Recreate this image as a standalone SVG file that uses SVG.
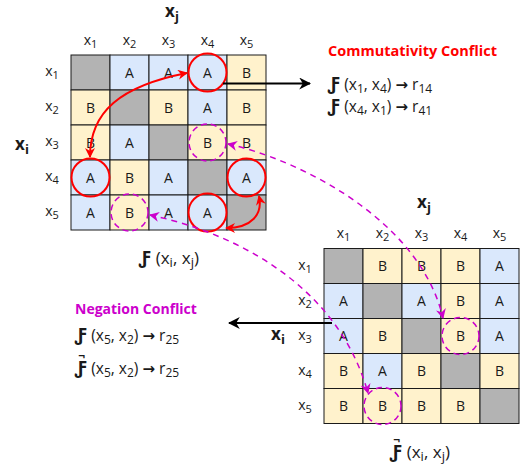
<svg xmlns="http://www.w3.org/2000/svg" width="522" height="472" viewBox="0 0 522 472">
<defs>
<style>
text{font-family:"Open Sans","Noto Sans","Liberation Sans",sans-serif;fill:#1a1a1a}
.c{font-size:14px;text-anchor:middle}
.lb{font-size:14px;text-anchor:middle}
.ax{font-size:17px;font-weight:bold;text-anchor:middle}
.g{fill:#b3b3b3;stroke:#1a1a1a;stroke-width:1}
.a{fill:#dae8fc;stroke:#1a1a1a;stroke-width:1}
.b{fill:#fff2cc;stroke:#1a1a1a;stroke-width:1}
.rc{fill:none;stroke:#ff0000;stroke-width:2}
.mc{fill:none;stroke:#cc00cc;stroke-width:1.5;stroke-dasharray:6 4}
.ra{fill:none;stroke:#ff0000;stroke-width:2}
.ma{fill:none;stroke:#cc00cc;stroke-width:1.5;stroke-dasharray:6 5}
.fx{font-size:17px}
.fm{font-size:15.5px}
.F{font-weight:bold;font-size:18px}
.ar{font-weight:bold;font-size:15px;font-family:"DejaVu Sans",sans-serif}
</style>
<marker id="rh" viewBox="0 0 10 10" refX="9" refY="5" markerWidth="10" markerHeight="10" markerUnits="userSpaceOnUse" orient="auto-start-reverse"><path d="M0,0 L10,5 L0,10 L3,5 Z" fill="#ff0000"/></marker>
<marker id="mh" viewBox="0 0 10 10" refX="9" refY="5" markerWidth="10" markerHeight="10" markerUnits="userSpaceOnUse" orient="auto-start-reverse"><path d="M0,0 L10,5 L0,10 L3,5 Z" fill="#cc00cc"/></marker>
<marker id="kh" viewBox="0 0 10 10" refX="9" refY="5" markerWidth="12" markerHeight="12" markerUnits="userSpaceOnUse" orient="auto"><path d="M0,0 L10,5 L0,10 L3,5 Z" fill="#000"/></marker>
</defs>

<g id="matrix-F">
<rect class="g" x="71" y="55" width="39" height="35"/><rect class="a" x="110" y="55" width="39" height="35"/><rect class="a" x="149" y="55" width="39" height="35"/><rect class="a" x="188" y="55" width="39" height="35"/><rect class="b" x="227" y="55" width="39" height="35"/>
<rect class="b" x="71" y="90" width="39" height="35"/><rect class="g" x="110" y="90" width="39" height="35"/><rect class="b" x="149" y="90" width="39" height="35"/><rect class="a" x="188" y="90" width="39" height="35"/><rect class="b" x="227" y="90" width="39" height="35"/>
<rect class="b" x="71" y="125" width="39" height="35"/><rect class="a" x="110" y="125" width="39" height="35"/><rect class="g" x="149" y="125" width="39" height="35"/><rect class="b" x="188" y="125" width="39" height="35"/><rect class="b" x="227" y="125" width="39" height="35"/>
<rect class="a" x="71" y="160" width="39" height="35"/><rect class="b" x="110" y="160" width="39" height="35"/><rect class="a" x="149" y="160" width="39" height="35"/><rect class="g" x="188" y="160" width="39" height="35"/><rect class="a" x="227" y="160" width="39" height="35"/>
<rect class="a" x="71" y="195" width="39" height="35"/><rect class="b" x="110" y="195" width="39" height="35"/><rect class="a" x="149" y="195" width="39" height="35"/><rect class="a" x="188" y="195" width="39" height="35"/><rect class="g" x="227" y="195" width="39" height="35"/>
<text class="c" x="129.5" y="77.5">A</text><text class="c" x="168.5" y="77.5">A</text><text class="c" x="207.5" y="77.5">A</text><text class="c" x="246.5" y="77.5">B</text>
<text class="c" x="90.5" y="112.5">B</text><text class="c" x="168.5" y="112.5">B</text><text class="c" x="207.5" y="112.5">A</text><text class="c" x="246.5" y="112.5">B</text>
<text class="c" x="90.5" y="147.5">B</text><text class="c" x="129.5" y="147.5">A</text><text class="c" x="207.5" y="147.5">B</text><text class="c" x="246.5" y="147.5">B</text>
<text class="c" x="90.5" y="182.5">A</text><text class="c" x="129.5" y="182.5">B</text><text class="c" x="168.5" y="182.5">A</text><text class="c" x="246.5" y="182.5">A</text>
<text class="c" x="90.5" y="217.5">A</text><text class="c" x="129.5" y="217.5">B</text><text class="c" x="168.5" y="217.5">A</text><text class="c" x="207.5" y="217.5">A</text>
<text class="lb" x="90.5" y="45">x<tspan font-size="11" dy="3">1</tspan></text>
<text class="lb" x="129.5" y="45">x<tspan font-size="11" dy="3">2</tspan></text>
<text class="lb" x="168.5" y="45">x<tspan font-size="11" dy="3">3</tspan></text>
<text class="lb" x="207.5" y="45">x<tspan font-size="11" dy="3">4</tspan></text>
<text class="lb" x="246.5" y="45">x<tspan font-size="11" dy="3">5</tspan></text>
<text class="lb" x="52" y="76">x<tspan font-size="11" dy="3">1</tspan></text>
<text class="lb" x="52" y="111">x<tspan font-size="11" dy="3">2</tspan></text>
<text class="lb" x="52" y="146">x<tspan font-size="11" dy="3">3</tspan></text>
<text class="lb" x="52" y="181">x<tspan font-size="11" dy="3">4</tspan></text>
<text class="lb" x="52" y="216">x<tspan font-size="11" dy="3">5</tspan></text>
<text class="ax" x="172" y="17">x<tspan font-size="13" dy="4">j</tspan></text>
<text class="ax" x="22" y="150">x<tspan font-size="13" dy="4">i</tspan></text>
<text class="fx" x="169" y="264" text-anchor="middle"><tspan class="F">Ƒ</tspan> (x<tspan font-size="13" dy="3">i</tspan><tspan dy="-3">, x</tspan><tspan font-size="13" dy="3">j</tspan><tspan dy="-3">)</tspan></text>
</g>

<g id="matrix-notF">
<rect class="g" x="324" y="248.5" width="39" height="35"/><rect class="b" x="363" y="248.5" width="39" height="35"/><rect class="b" x="402" y="248.5" width="39" height="35"/><rect class="b" x="441" y="248.5" width="39" height="35"/><rect class="a" x="480" y="248.5" width="39" height="35"/>
<rect class="a" x="324" y="283.5" width="39" height="35"/><rect class="g" x="363" y="283.5" width="39" height="35"/><rect class="a" x="402" y="283.5" width="39" height="35"/><rect class="b" x="441" y="283.5" width="39" height="35"/><rect class="a" x="480" y="283.5" width="39" height="35"/>
<rect class="a" x="324" y="318.5" width="39" height="35"/><rect class="b" x="363" y="318.5" width="39" height="35"/><rect class="g" x="402" y="318.5" width="39" height="35"/><rect class="b" x="441" y="318.5" width="39" height="35"/><rect class="a" x="480" y="318.5" width="39" height="35"/>
<rect class="b" x="324" y="353.5" width="39" height="35"/><rect class="a" x="363" y="353.5" width="39" height="35"/><rect class="b" x="402" y="353.5" width="39" height="35"/><rect class="g" x="441" y="353.5" width="39" height="35"/><rect class="b" x="480" y="353.5" width="39" height="35"/>
<rect class="b" x="324" y="388.5" width="39" height="35"/><rect class="b" x="363" y="388.5" width="39" height="35"/><rect class="b" x="402" y="388.5" width="39" height="35"/><rect class="b" x="441" y="388.5" width="39" height="35"/><rect class="g" x="480" y="388.5" width="39" height="35"/>
<text class="c" x="382.5" y="271">B</text><text class="c" x="421.5" y="271">B</text><text class="c" x="460.5" y="271">B</text><text class="c" x="499.5" y="271">A</text>
<text class="c" x="343.5" y="306">A</text><text class="c" x="421.5" y="306">A</text><text class="c" x="460.5" y="306">B</text><text class="c" x="499.5" y="306">A</text>
<text class="c" x="343.5" y="341">A</text><text class="c" x="382.5" y="341">B</text><text class="c" x="460.5" y="341">B</text><text class="c" x="499.5" y="341">A</text>
<text class="c" x="343.5" y="376">B</text><text class="c" x="382.5" y="376">A</text><text class="c" x="421.5" y="376">B</text><text class="c" x="499.5" y="376">B</text>
<text class="c" x="343.5" y="411">B</text><text class="c" x="382.5" y="411">B</text><text class="c" x="421.5" y="411">B</text><text class="c" x="460.5" y="411">B</text>
<text class="lb" x="343.5" y="238">x<tspan font-size="11" dy="3">1</tspan></text>
<text class="lb" x="382.5" y="238">x<tspan font-size="11" dy="3">2</tspan></text>
<text class="lb" x="421.5" y="238">x<tspan font-size="11" dy="3">3</tspan></text>
<text class="lb" x="460.5" y="238">x<tspan font-size="11" dy="3">4</tspan></text>
<text class="lb" x="499.5" y="238">x<tspan font-size="11" dy="3">5</tspan></text>
<text class="lb" x="305" y="270">x<tspan font-size="11" dy="3">1</tspan></text>
<text class="lb" x="305" y="305">x<tspan font-size="11" dy="3">2</tspan></text>
<text class="lb" x="305" y="340">x<tspan font-size="11" dy="3">3</tspan></text>
<text class="lb" x="305" y="375">x<tspan font-size="11" dy="3">4</tspan></text>
<text class="lb" x="305" y="410">x<tspan font-size="11" dy="3">5</tspan></text>
<text class="ax" x="424" y="208">x<tspan font-size="13" dy="4">j</tspan></text>
<text class="ax" x="278" y="340">x<tspan font-size="13" dy="4">i</tspan></text>
<text class="fx" x="420" y="458" text-anchor="middle"><tspan font-size="12" font-weight="bold" dy="-14">¬</tspan><tspan class="F" dx="-10" dy="14">Ƒ</tspan> (x<tspan font-size="13" dy="3">i</tspan><tspan dy="-3">, x</tspan><tspan font-size="13" dy="3">j</tspan><tspan dy="-3">)</tspan></text>
</g>

<g id="commutativity">
<text x="328" y="56" font-size="14.5" font-weight="bold" style="fill:#ff0000">Commutativity Conflict</text>
<text class="fm" x="328" y="90"><tspan class="F">Ƒ</tspan> (x<tspan font-size="12" dy="3">1</tspan><tspan dy="-3">, x</tspan><tspan font-size="12" dy="3">4</tspan><tspan dy="-3">) </tspan><tspan class="ar">→</tspan> r<tspan font-size="12" dy="3">14</tspan></text>
<text class="fm" x="328" y="112"><tspan class="F">Ƒ</tspan> (x<tspan font-size="12" dy="3">4</tspan><tspan dy="-3">, x</tspan><tspan font-size="12" dy="3">1</tspan><tspan dy="-3">) </tspan><tspan class="ar">→</tspan> r<tspan font-size="12" dy="3">41</tspan></text>
</g>

<g id="negation">
<text x="75" y="314" font-size="14" font-weight="bold" style="fill:#cc00cc">Negation Conflict</text>
<text class="fm" x="75" y="341"><tspan class="F">Ƒ</tspan> (x<tspan font-size="12" dy="3">5</tspan><tspan dy="-3">, x</tspan><tspan font-size="12" dy="3">2</tspan><tspan dy="-3">) </tspan><tspan class="ar">→</tspan> r<tspan font-size="12" dy="3">25</tspan></text>
<text class="fm" x="75" y="374"><tspan font-size="12" font-weight="bold" dy="-14">¬</tspan><tspan class="F" dx="-10" dy="14">Ƒ</tspan> (x<tspan font-size="12" dy="3">5</tspan><tspan dy="-3">, x</tspan><tspan font-size="12" dy="3">2</tspan><tspan dy="-3">) </tspan><tspan class="ar">→</tspan> r<tspan font-size="12" dy="3">25</tspan></text>
</g>

<g id="highlights">
<circle class="rc" cx="207.5" cy="72.5" r="19"/>
<circle class="rc" cx="90.5" cy="177.5" r="19"/>
<circle class="rc" cx="246.5" cy="177.5" r="19"/>
<circle class="rc" cx="207.5" cy="212.5" r="19"/>
<circle class="mc" cx="207.5" cy="142.5" r="18.5"/>
<circle class="mc" cx="129.5" cy="212.5" r="18.5"/>
<circle class="mc" cx="460.5" cy="336" r="18.5"/>
<circle class="mc" cx="382.5" cy="406" r="18.5"/>
</g>

<g id="connectors">
<path class="ra" d="M90,157 C90,112 120,86 187,73" marker-start="url(#rh)" marker-end="url(#rh)"/>
<path class="ra" d="M259,196 C263,214 252,228 226,228" marker-start="url(#rh)" marker-end="url(#rh)"/>
<path class="ma" d="M228,144 C300,160 420,220 443,318" marker-start="url(#mh)" marker-end="url(#mh)"/>
<path class="ma" d="M150,215 C235,233 338,285 368,393" marker-start="url(#mh)" marker-end="url(#mh)"/>
<path d="M223,83.5 L310,83.5" stroke="#000" stroke-width="2" fill="none" marker-end="url(#kh)"/>
<path d="M332,323 L229,323" stroke="#000" stroke-width="2" fill="none" marker-end="url(#kh)"/>
</g>
</svg>
